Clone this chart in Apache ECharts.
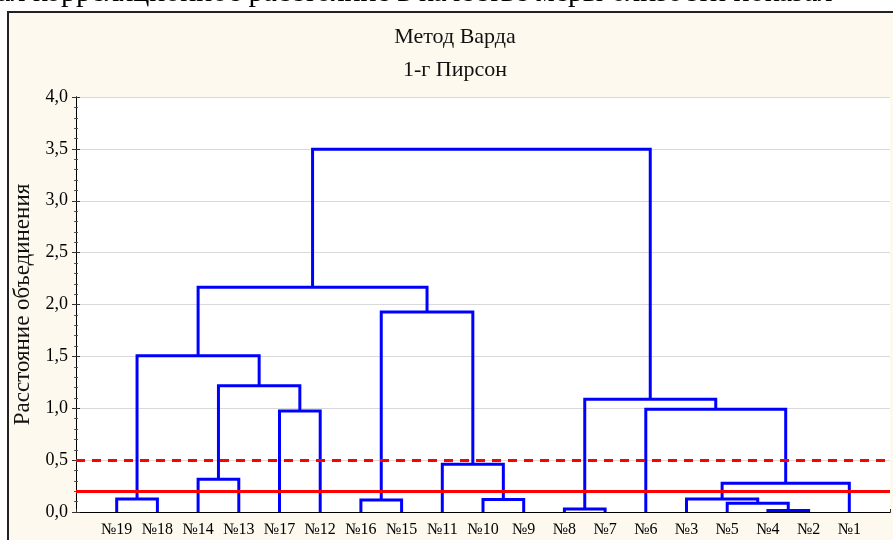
<!DOCTYPE html>
<html>
<head>
<meta charset="utf-8">
<script src="https://cdn.jsdelivr.net/npm/echarts@6/dist/echarts.min.js"></script>
<style>
  html, body { margin: 0; padding: 0; background: #fff; }
  #chart { width: 893px; height: 540px; }
</style>
</head>
<body>
<div id="chart"></div>
<script>
// leaves in the order they are drawn, left to right
const leafLabels = ['№19', '№18', '№14', '№13', '№17', '№12', '№16', '№15', '№11', '№10',
  '№9', '№8', '№7', '№6', '№3', '№5', '№4', '№2', '№1']

// merges: ids 0..18 are leaves, merge k makes id 19 + k
const mergeLeft = [16, 11, 15, 6, 9, 14, 0, 24, 2, 8, 4, 13, 20, 27, 25, 22, 33, 35]
const mergeRight = [17, 12, 19, 7, 10, 21, 1, 18, 3, 23, 5, 26, 30, 29, 32, 28, 34, 31]
const mergeHeight = [0.015, 0.03, 0.084, 0.116, 0.12, 0.125, 0.125, 0.277, 0.315, 0.46,
  0.973, 0.99, 1.086, 1.217, 1.507, 1.928, 2.166, 3.496]

// red cut-off levels
const cutSolid = 0.2
const cutDashed = 0.5

const yMin = 0, yMax = 4, yStep = 0.5

// build the U-shaped links
const pos = leafLabels.map((_, i) => i + 1)
const hgt = leafLabels.map(() => 0)
const links = []
mergeHeight.forEach((h, k) => {
  const l = mergeLeft[k], r = mergeRight[k]
  links.push({ coords: [[pos[l], hgt[l]], [pos[l], h], [pos[r], h], [pos[r], hgt[r]]] })
  pos.push((pos[l] + pos[r]) / 2)
  hgt.push(h)
})

const serif = 'Liberation Serif'
const chart = echarts.init(document.getElementById('chart'))

chart.setOption({
  animation: false,
  backgroundColor: '#fff',
  graphic: [
    {
      // line of document text above the frame, cut by the top edge
      type: 'text', x: -3, y: -22, z: 0,
      style: {
        text: 'ал корреляционное расстояние в качестве меры близости показал',
        fontSize: 30, fontFamily: serif, fill: '#000', verticalAlign: 'top'
      }
    },
    {
      type: 'rect', shape: { x: 8, y: 12, width: 900, height: 540 }, z: -10,
      style: { fill: '#fdf9ee', stroke: '#222', lineWidth: 2 }
    },
    {
      type: 'text', x: 455, y: 37, z: 5,
      style: { text: 'Метод Варда', fontSize: 22, fontFamily: serif, fill: '#111', align: 'center', verticalAlign: 'middle' }
    },
    {
      type: 'text', x: 455, y: 70, z: 5,
      style: { text: '1-г Пирсон', fontSize: 22, fontFamily: serif, fill: '#111', align: 'center', verticalAlign: 'middle' }
    }
  ],
  grid: {
    left: 76, right: 1, top: 97, bottom: 28,
    show: true, backgroundColor: '#fff', borderWidth: 0
  },
  xAxis: [
    {
      type: 'value', min: 0, max: leafLabels.length + 1, interval: 1, position: 'bottom',
      axisLine: { lineStyle: { color: '#000', width: 1 } },
      axisTick: { show: false },
      splitLine: { show: false },
      axisLabel: {
        margin: 10, color: '#000', fontFamily: serif, fontSize: 16,
        formatter: v => leafLabels[v - 1] || ''
      }
    },
    {
      type: 'value', min: 0, max: leafLabels.length + 1, interval: 1, position: 'top',
      axisLine: { lineStyle: { color: '#000', width: 1 } },
      axisTick: { show: true, length: 3, lineStyle: { color: '#333' } },
      splitLine: { show: false },
      axisLabel: { show: false }
    }
  ],
  yAxis: [
    {
      type: 'value', min: yMin, max: yMax, interval: yStep, position: 'left',
      name: 'Расстояние объединения', nameLocation: 'middle', nameGap: 34,
      nameTextStyle: { color: '#111', fontFamily: serif, fontSize: 23 },
      axisLine: { show: true, lineStyle: { color: '#000', width: 1 } },
      axisTick: { show: true, inside: true, length: 4, lineStyle: { color: '#333' } },
      minorTick: { show: true, splitNumber: 5, length: 2, lineStyle: { color: '#555' } },
      splitLine: { show: true, lineStyle: { color: '#d9d9d9', width: 1 } },
      axisLabel: {
        margin: 8, color: '#000', fontFamily: serif, fontSize: 18,
        formatter: v => v.toFixed(1).replace('.', ',')
      }
    },
    {
      type: 'value', min: yMin, max: yMax, interval: yStep, position: 'right',
      axisLine: { show: true, lineStyle: { color: '#000', width: 1 } },
      axisTick: { show: true, inside: true, length: 4, lineStyle: { color: '#333' } },
      minorTick: { show: true, splitNumber: 5, length: 2, lineStyle: { color: '#555' } },
      splitLine: { show: false },
      axisLabel: { show: false }
    }
  ],
  series: [
    {
      type: 'lines',
      coordinateSystem: 'cartesian2d',
      xAxisIndex: 0, yAxisIndex: 0,
      polyline: true,
      silent: true,
      z: 3,
      lineStyle: { color: '#0000ff', width: 3, opacity: 1 },
      data: links
    },
    {
      type: 'line',
      xAxisIndex: 0, yAxisIndex: 0,
      data: [],
      z: 5,
      markLine: {
        silent: true,
        symbol: 'none',
        label: { show: false },
        data: [
          { yAxis: cutSolid, lineStyle: { color: '#ff0000', width: 3, type: 'solid' } },
          { yAxis: cutDashed, lineStyle: { color: '#ff0000', width: 3, type: [9, 7] } }
        ]
      }
    }
  ]
})
</script>
</body>
</html>
